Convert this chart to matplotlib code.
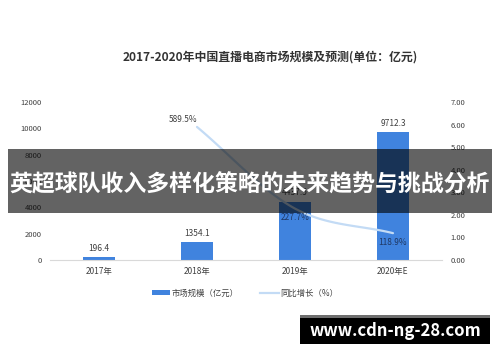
import matplotlib
matplotlib.use("Agg")
import matplotlib.pyplot as plt
import numpy as np
from matplotlib.patches import Rectangle
from matplotlib.lines import Line2D
from matplotlib.patches import Patch

plt.rcParams['font.family'] = ['Noto Sans CJK SC', 'DejaVu Sans']

categories = ['2017年', '2018年', '2019年', '2020年E']
market_size = [196.4, 1354.1, 4437.5, 9712.3]
growth = [None, 5.895, 2.277, 1.189]
growth_labels = ['', '589.5%', '227.7%', '118.9%']
left_ticks = [0, 2000, 4000, 6000, 8000, 10000, 12000]
right_ticks = [0, 1, 2, 3, 4, 5, 6, 7]
title = '2017-2020年中国直播电商市场规模及预测(单位：亿元)'
banner = '英超球队收入多样化策略的未来趋势与挑战分析'
footer = 'www.cdn-ng-28.com'

W, H = 500, 362
fig = plt.figure(figsize=(W/100, H/100), dpi=100)
fig.patch.set_facecolor('white')

ax = fig.add_axes([50/W, (H-260)/H, 392/W, 158/H])
ax2 = ax.twinx()
ax.set_zorder(1)
ax2.set_zorder(2)
ax.patch.set_visible(False)
ax2.patch.set_visible(False)

x = np.arange(len(categories))
bar_color = '#4083de'
ax.bar(x, market_size, width=0.32, color=bar_color, zorder=2)
ax.set_xlim(-0.5, 3.5)
ax.set_ylim(0, 12000)
ax.set_yticks(left_ticks)
ax.set_yticklabels([str(t) for t in left_ticks])
ax.set_xticks(x)
ax.set_xticklabels(categories)
for s in ['top', 'right', 'left']:
    ax.spines[s].set_visible(False)
ax.spines['bottom'].set_color('#d9d9d9')
ax.spines['bottom'].set_linewidth(0.8)
ax.tick_params(axis='y', length=0, pad=6, labelsize=5.5, labelcolor='#404040')
ax.tick_params(axis='x', length=0, pad=5, labelsize=6, labelcolor='#404040')
for xi, v in zip(x, market_size):
    ax.text(xi, v + 350, f'{v:.1f}', ha='center', va='bottom', fontsize=6, color='#404040')

ax2.set_ylim(0, 7)
ax2.set_yticks(right_ticks)
ax2.set_yticklabels([f'{t:.2f}' for t in right_ticks])
for s in ['top', 'right', 'left', 'bottom']:
    ax2.spines[s].set_visible(False)
ax2.tick_params(axis='y', length=0, pad=6, labelsize=5.5, labelcolor='#404040')

# smoothed line (Catmull-Rom through the data points)
gx = [xi for xi, g in zip(x, growth) if g is not None]
gy = [g for g in growth if g is not None]
pts = np.array(list(zip(gx, gy)), dtype=float)
P = np.vstack([pts[0] - (pts[1] - pts[0]), pts, pts[-1] + (pts[-1] - pts[-2])])
cx, cy = [], []
tt = np.linspace(0, 1, 30)
for i in range(1, len(P) - 2):
    p0, p1, p2, p3 = P[i-1], P[i], P[i+1], P[i+2]
    for t in tt:
        c = 0.5 * ((2*p1) + (-p0 + p2)*t + (2*p0 - 5*p1 + 4*p2 - p3)*t**2 + (-p0 + 3*p1 - 3*p2 + p3)*t**3)
        cx.append(c[0]); cy.append(c[1])
line_color = '#c3dbf5'
ax2.plot(cx, cy, color=line_color, lw=1.6, solid_capstyle='round', zorder=3)
ax2.text(1 - 0.14, growth[1] + 0.12, growth_labels[1], ha='center', va='bottom', fontsize=6, color='#404040')
ax2.text(2, growth[2] - 0.2, growth_labels[2], ha='center', va='top', fontsize=6, color='#1f3864')
ax2.text(3, growth[3] - 0.2, growth_labels[3], ha='center', va='top', fontsize=6, color='#1f3864')

fig.text(270/W, 1 - 57/H, title, ha='center', va='center', fontsize=8.6, fontweight='bold', color='#333333')

# legend
handles = [Patch(facecolor=bar_color, edgecolor='none', label='市场规模（亿元）'),
           Line2D([0], [0], color=line_color, lw=1.6, label='同比增长（%）')]
fig.legend(handles=handles, loc='center', bbox_to_anchor=(245/W, 1 - 293/H), ncol=2, frameon=False,
           fontsize=6, handlelength=2.2, handleheight=0.6, columnspacing=2.6, handletextpad=0.2,
           labelcolor='#404040')

# banner overlay
fig.patches.append(Rectangle((8/W, 1 - 213/H), 484/W, 64/H, transform=fig.transFigure,
                             facecolor='black', alpha=0.61, edgecolor='none', zorder=10))
fig.text(250/W, 1 - 185/H, banner, ha='center', va='center', fontsize=16.5, fontweight='bold',
         color='white', zorder=11)

# footer
fig.patches.append(Rectangle((300/W, 1 - 344/H), 190/W, 29/H, transform=fig.transFigure,
                             facecolor='#000000', edgecolor='none', zorder=10))
fig.patches.append(Rectangle((300/W, 1 - 318/H), 190/W, 3/H, transform=fig.transFigure,
                             facecolor='#6e6e6e', edgecolor='none', zorder=11))
fig.text(395/W, 1 - 331/H, footer, ha='center', va='center', fontsize=12, fontweight='bold',
         color='white', zorder=12)

fig.savefig('out.png', dpi=100)
